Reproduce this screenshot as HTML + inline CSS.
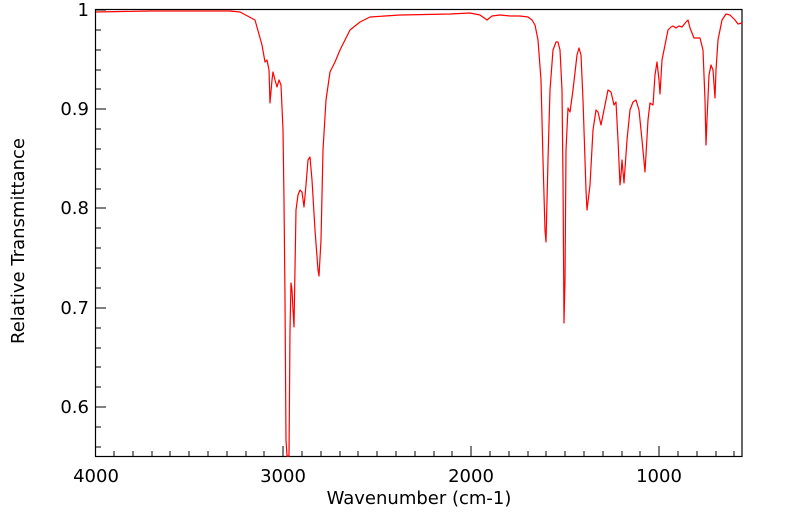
<!DOCTYPE html>
<html><head><meta charset="utf-8"><style>
body{margin:0;background:#fff;width:799px;height:516px;overflow:hidden}
text{font-family:"DejaVu Sans","Liberation Sans",sans-serif;font-size:18px;fill:#000}
</style></head><body>
<svg width="799" height="516" xmlns="http://www.w3.org/2000/svg">
<rect x="95.5" y="9.5" width="646.5" height="447" fill="none" stroke="#000" stroke-width="1.2"/>
<g stroke="#000" stroke-width="1">
<path d="M283 456v-10M471 456v-10M659 456v-10"/>
<path d="M114 456v-5M133 456v-5M152 456v-5M170 456v-5M189 456v-5M208 456v-5M227 456v-5M246 456v-5M264 456v-5M302 456v-5M321 456v-5M340 456v-5M358 456v-5M377 456v-5M396 456v-5M415 456v-5M434 456v-5M452 456v-5M490 456v-5M509 456v-5M528 456v-5M546 456v-5M565 456v-5M584 456v-5M603 456v-5M622 456v-5M640 456v-5M678 456v-5M697 456v-5M716 456v-5M734 456v-5"/>
<path d="M96 10h10M96 109h10M96 208h10M96 308h10M96 407h10"/>
<path d="M96 30h5M96 50h5M96 70h5M96 89h5M96 129h5M96 149h5M96 169h5M96 189h5M96 228h5M96 248h5M96 268h5M96 288h5M96 328h5M96 348h5M96 367h5M96 387h5M96 427h5M96 447h5"/>
</g>
<g text-anchor="end">
<text x="89" y="16">1</text><text x="89" y="115">0.9</text><text x="89" y="214">0.8</text><text x="89" y="314">0.7</text><text x="89" y="413">0.6</text>
</g>
<g text-anchor="middle">
<text x="96" y="482">4000</text><text x="283" y="482">3000</text><text x="471" y="482">2000</text><text x="659" y="482">1000</text>
<text x="419" y="504">Wavenumber (cm-1)</text>
<text transform="translate(24,241) rotate(-90)">Relative Transmittance</text>
</g>
<polyline fill="none" stroke="#f00" stroke-width="1.2" stroke-linejoin="round" points="96,12 150,11 230,11 240,12 255,20 262,45 265,62 267,60 269,70 270,103 272,80 273,72 275,80 277,87 279,80 281,85 283,130 284,200 285,300 286,440 287,456 289,456 290,330 291,283 292,290 293,310 294,327 296,210 298,195 300,190 302,192 304,207 306,185 308,160 310,157 312,180 315,230 318,270 319,276 321,240 323,150 326,100 330,72 335,62 340,50 350,30 360,22 370,17 400,15 450,14 470,13 480,15 487,20 492,16 500,15 510,16 520,16 528,17 532,20 535,25 538,40 541,80 543,160 545,230 546,242 548,160 550,90 553,50 556,42 558,42 560,50 562,90 563,180 564,323 565,280 566,150 568,108 570,112 573,90 577,55 579,48 581,55 583,100 586,190 587,210 590,185 593,130 596,110 598,112 601,125 604,110 608,90 611,92 614,105 616,102 618,140 620,185 621,175 622,160 624,183 627,140 630,110 633,102 636,100 639,110 642,140 645,172 648,120 650,103 653,105 655,75 657,62 659,80 660,94 662,60 665,45 668,30 671,27 673,26 676,28 679,26 682,27 686,22 688,20 690,28 694,38 700,38 703,50 705,100 706,145 707,120 709,75 711,65 713,70 715,98 716,70 718,40 722,20 726,14 730,15 735,20 738,24 742,23"/>
</svg>
</body></html>
